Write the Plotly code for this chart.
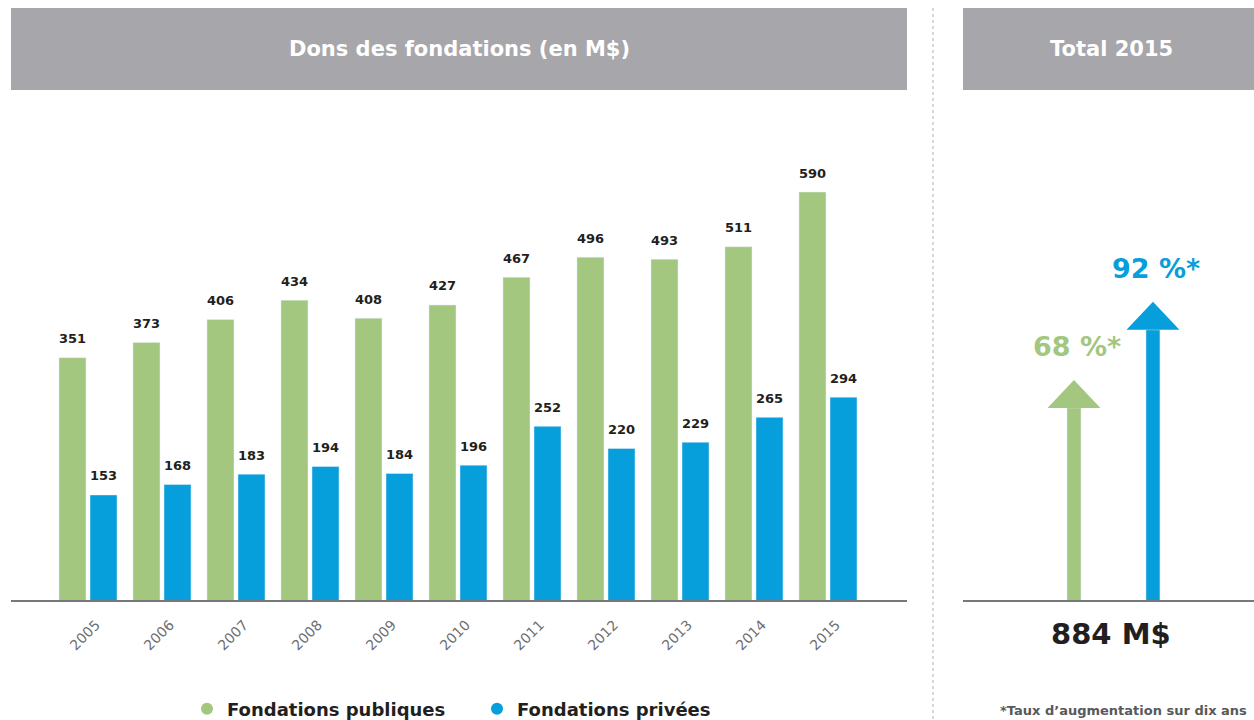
import plotly.graph_objects as go

years = [2005, 2006, 2007, 2008, 2009, 2010, 2011, 2012, 2013, 2014, 2015]
publiques = [351, 373, 406, 434, 408, 427, 467, 496, 493, 511, 590]
privees = [153, 168, 183, 194, 184, 196, 252, 220, 229, 265, 294]

growth_labels = ["68 %*", "92 %*"]
growth_values = [68, 92]
total_2015 = "884 M$"

GREEN = "#a3c77f"
BLUE = "#069edb"
HEADER = "#a7a6aa"
DARK = "#231f20"
FONT = "DejaVu Sans"

W, H = 1254, 720
L, R, T, B = 11, 0, 110, 119
PW, PH = W - L - R, H - T - B


# screen pixel -> paper coords
def px(p):
    return (p - L) / PW


def py(p):
    return (H - B - p) / PH


def bold(size, color=DARK):
    return dict(size=size, color=color, family=FONT, weight="bold")


fig = go.Figure()

bargap = 0.162
fig.add_trace(go.Bar(x=years, y=publiques, marker_color=GREEN, showlegend=False,
                     hoverinfo="x+y"))
fig.add_trace(go.Bar(x=years, y=privees, marker_color=BLUE, showlegend=False,
                     hoverinfo="x+y"))

# legend entries with round markers
fig.add_trace(go.Scatter(x=[None], y=[None], mode="markers", name="Fondations publiques",
                         marker=dict(color=GREEN, size=12, symbol="circle")))
fig.add_trace(go.Scatter(x=[None], y=[None], mode="markers", name="Fondations privées",
                         marker=dict(color=BLUE, size=12, symbol="circle")))

annotations = []
half = (1 - bargap) / 4
for yr, a, b in zip(years, publiques, privees):
    annotations.append(dict(x=yr - half, y=a, text=str(a), showarrow=False, yshift=19,
                            xanchor="center", font=bold(13)))
    annotations.append(dict(x=yr + half, y=b, text=str(b), showarrow=False, yshift=19,
                            xanchor="center", font=bold(13)))

# arrows in the right panel
arrow_x = [0, 1]
arrow_colors = [GREEN, BLUE]
y2max = 151
head_h = 28 * y2max / PH
head_w = 0.67
fig.add_trace(go.Bar(x=arrow_x, y=[v - head_h for v in growth_values], width=0.177,
                     marker_color=arrow_colors, xaxis="x2", yaxis="y2",
                     showlegend=False, hoverinfo="skip"))
for xc, v, col, lab in zip(arrow_x, growth_values, arrow_colors, growth_labels):
    base = v - head_h
    fig.add_trace(go.Scatter(x=[xc - head_w / 2, xc, xc + head_w / 2, xc - head_w / 2],
                             y=[base, v, base, base], fill="toself", fillcolor=col,
                             mode="lines", line=dict(width=0, color=col),
                             xaxis="x2", yaxis="y2", showlegend=False, hoverinfo="skip"))
    annotations.append(dict(x=xc + 0.04, y=v, xref="x2", yref="y2", text=lab, showarrow=False,
                            yshift=33, xanchor="center", font=bold(27, col)))

# headers
shapes = [
    dict(type="rect", xref="paper", yref="paper", x0=0, x1=px(907), y0=py(90), y1=py(8),
         fillcolor=HEADER, line=dict(width=0), layer="below"),
    dict(type="rect", xref="paper", yref="paper", x0=px(963), x1=1, y0=py(90), y1=py(8),
         fillcolor=HEADER, line=dict(width=0), layer="below"),
    dict(type="line", xref="paper", yref="paper", x0=px(933), x1=px(933), y0=py(8), y1=py(720),
         line=dict(color="#b0b0b0", width=1, dash="dot")),
    dict(type="line", xref="paper", yref="paper", x0=0, x1=px(907), y0=0, y1=0,
         line=dict(color="#77787b", width=2)),
    dict(type="line", xref="paper", yref="paper", x0=px(963), x1=1, y0=0, y1=0,
         line=dict(color="#77787b", width=2)),
]
annotations += [
    dict(xref="paper", yref="paper", x=px(459), y=py(49), text="Dons des fondations (en M$)",
         showarrow=False, xanchor="center", yanchor="middle", font=bold(21, "white")),
    dict(xref="paper", yref="paper", x=px(1111), y=py(49), text="Total 2015",
         showarrow=False, xanchor="center", yanchor="middle", font=bold(21, "white")),
    dict(xref="paper", yref="paper", x=px(1111), y=py(634), text=total_2015,
         showarrow=False, xanchor="center", yanchor="middle", font=bold(29)),
    dict(xref="paper", yref="paper", x=px(1123), y=py(710), text="*Taux d’augmentation sur dix ans",
         showarrow=False, xanchor="center", yanchor="middle", font=bold(13, "#58595b")),
]

fig.update_layout(
    width=W, height=H,
    margin=dict(l=L, r=R, t=T, b=B, autoexpand=False),
    paper_bgcolor="white", plot_bgcolor="white",
    barmode="group", bargap=bargap, bargroupgap=0.129,
    font=dict(family=FONT, color=DARK),
    xaxis=dict(domain=[0, px(907)], range=[2005 - 77 / 74, 2005 + 819 / 74],
               tickmode="array", tickvals=years, tickangle=-45, showgrid=False,
               tickfont=dict(size=14, color="#6d6e71", family=FONT),
               ticks="", ticklabelshift=8, ticklabelstandoff=12,
               zeroline=False, showline=False, fixedrange=True),
    yaxis=dict(range=[0, PH * 590 / 409], visible=False, fixedrange=True),
    xaxis2=dict(domain=[px(963), 1], range=[-1.405, 2.279], visible=False, fixedrange=True),
    yaxis2=dict(anchor="x2", range=[0, y2max], visible=False, fixedrange=True),
    shapes=shapes,
    annotations=annotations,
    legend=dict(orientation="h", x=px(187), y=py(709), yanchor="middle", xanchor="left",
                font=bold(18), entrywidth=245, entrywidthmode="pixels"),
)

fig.write_html("out.html", config={"displayModeBar": False},
               post_script="document.body.style.margin = '0';")
